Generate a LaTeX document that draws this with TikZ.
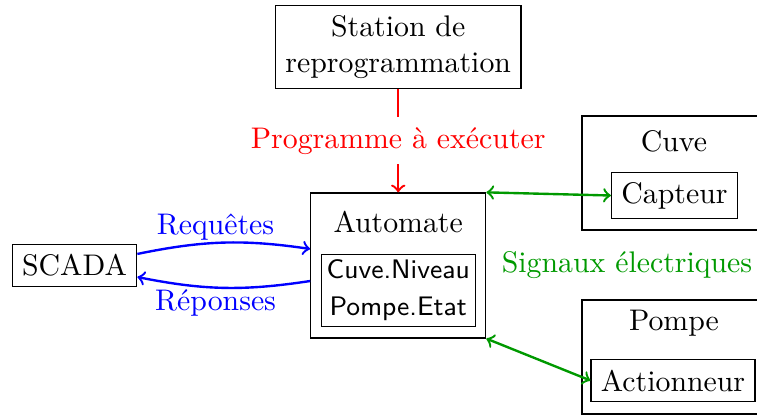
\documentclass[tikz,border=0pt]{standalone}
\usetikzlibrary{positioning}

\tikzset{
	boite/.style={draw, align=center},
	cadre/.style={draw, minimum width=2.169cm, minimum height=1.344cm},
	fleche/.style={thick, ->},
	liaison/.style={thick, <->, color=green!60!black}
}

\begin{document}
\begin{tikzpicture}
\useasboundingbox (0,0) rectangle (8.925,-4.881);

\pgfmathsetmacro{\colAx}{0.878}
\pgfmathsetmacro{\colBx}{4.695}
\pgfmathsetmacro{\colCx}{7.946}
\pgfmathsetmacro{\ligA}{-0.554}
\pgfmathsetmacro{\ligB}{-3.130}

\node[boite] (station) at (\colBx, \ligA) {Station de\\reprogrammation};

\node[draw, minimum width=2.063cm, minimum height=1.710cm] (automate) at (\colBx, \ligB) {};
\node (automatetitre) at (\colBx, -2.617) {Automate};
\node[boite, font=\small\sffamily, inner sep=1.8pt] (variables) at (\colBx, -3.425) {Cuve.Niveau\\[1.4pt]Pompe.Etat};

\node[boite] (scada) at (\colAx, \ligB) {SCADA};

\node[cadre] (cuve) at (\colCx, -2.040) {};
\node (cuvetitre) at (\colCx, -1.662) {Cuve};
\node[boite] (capteur) at (7.952, -2.305) {Capteur};

\node[cadre] (pompe) at (\colCx, -4.209) {};
\node (pompetitre) at (\colCx, -3.808) {Pompe};
\node[boite] (actionneur) at (7.935, -4.486) {Actionneur};

\node[color=green!60!black] (signaux) at (7.392, -3.124) {Signaux électriques};

\draw[fleche, color=red] (station) -- node[fill=white] {Programme à exécuter} (automate);

\draw[fleche, color=blue] ([yshift=0.136cm]scada.east) to[bend left=10] node[pos=0.45, above, yshift=-3pt] {Requêtes} ([yshift=0.195cm]automate.west);
\draw[fleche, color=blue] ([yshift=-0.183cm]automate.west) to[bend left=10] node[pos=0.55, below, yshift=3pt] {Réponses} ([yshift=-0.136cm]scada.east);

\draw[liaison] (automate.north east) -- (capteur.west);
\draw[liaison] (automate.south east) -- (actionneur.west);
\end{tikzpicture}
\end{document}
